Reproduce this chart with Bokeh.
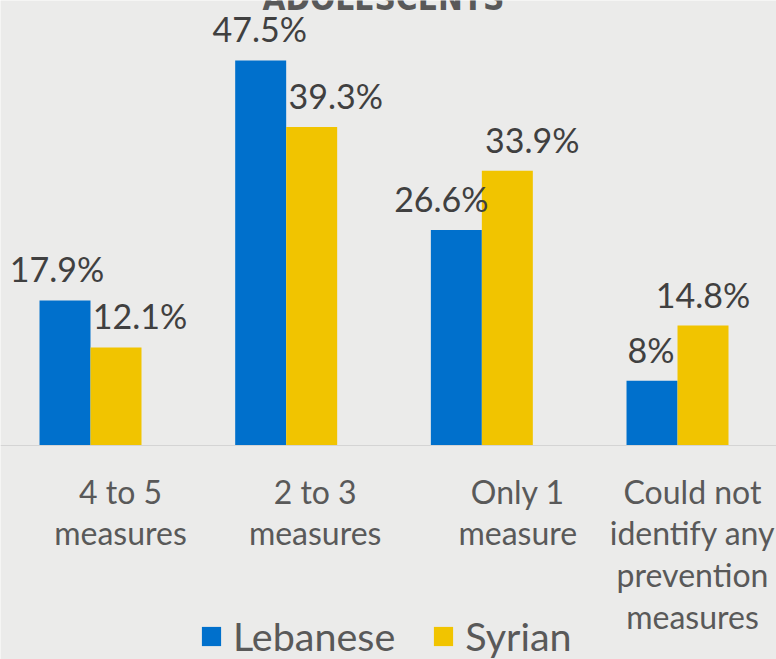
from bokeh.plotting import figure
from bokeh.models import ColumnDataSource, LabelSet, Label, Legend, LegendItem, Range1d, Span
from bokeh.core.properties import value
from bokeh.transform import dodge
from bokeh.embed import file_html
from bokeh.resources import INLINE

# ---- data ----
categories = ["4 to 5\nmeasures", "2 to 3\nmeasures", "Only 1\nmeasure",
              "Could not\nidentify any\nprevention\nmeasures"]
lebanese = [17.9, 47.5, 26.6, 8.0]
syrian = [12.1, 39.3, 33.9, 14.8]
series_names = ["Lebanese", "Syrian"]
title_text = "ADOLESCENTS"

# ---- styles ----
BG = "#EBEBEA"
BLUE = "#0070CC"
YELLOW = "#F1C400"
FONT = "Lato"
leb_dx = [-8, -1, -15, -1]     # label nudges in px
syr_dx = [24, 24, 25, 0]
cat_dx = [30, 29, 36, 15]
LINE_STEP = 41.7
FIRST_LINE = 58

idx = list(range(len(categories)))
src = ColumnDataSource(dict(
    x=idx,
    leb=lebanese,
    syr=syrian,
    leb_txt=[f"{v:g}%" for v in lebanese],
    syr_txt=[f"{v:g}%" for v in syrian],
    leb_dx=leb_dx,
    syr_dx=syr_dx,
))

# one row per text line of each category label (so each line is centred)
lx, lt, ldx, ldy = [], [], [], []
for i, cat in enumerate(categories):
    for j, line in enumerate(cat.split("\n")):
        lx.append(i)
        lt.append(line)
        ldx.append(cat_dx[i])
        ldy.append(-(FIRST_LINE + LINE_STEP * j))
cat_src = ColumnDataSource(dict(x=lx, text=lt, dx=ldx, dy=ldy))

W, H = 776, 659
p = figure(width=W, height=H, output_backend="svg", toolbar_location=None,
           x_range=Range1d(-0.46, 3.5059), y_range=Range1d(-26.40, 54.90),
           min_border=0, min_border_left=0, min_border_right=0,
           min_border_top=0, min_border_bottom=0)
p.background_fill_color = BG
p.border_fill_color = BG
p.outline_line_color = None
p.axis.visible = False
p.grid.visible = False

bw = 0.2606
off = bw / 2
r1 = p.vbar(x=dodge("x", -off, range=p.x_range), top="leb", width=bw, source=src,
            fill_color=BLUE, line_color=None)
r2 = p.vbar(x=dodge("x", off, range=p.x_range), top="syr", width=bw, source=src,
            fill_color=YELLOW, line_color=None)

p.add_layout(Span(location=0, dimension="width", line_color="#D4D4D4", line_width=1))

common = dict(text_font=value(FONT), text_font_size="34px", text_color="#404040",
              text_align="center", text_baseline="alphabetic")
p.add_layout(LabelSet(x=dodge("x", -off, range=p.x_range), y="leb", text="leb_txt",
                      source=src, x_offset="leb_dx", y_offset=18, **common))
p.add_layout(LabelSet(x=dodge("x", off, range=p.x_range), y="syr", text="syr_txt",
                      source=src, x_offset="syr_dx", y_offset=18, **common))

p.add_layout(LabelSet(x="x", y=0, text="text", source=cat_src, x_offset="dx", y_offset="dy",
                      text_align="center", text_baseline="alphabetic",
                      text_font=value(FONT), text_font_size="32px", text_color="#595959"))

p.add_layout(Label(x=1.497, y=55.15, text=title_text,
                   text_align="center", text_baseline="alphabetic",
                   text_font="DejaVu Sans Condensed", text_font_style="bold",
                   text_font_size="33px", text_color="#595959"))

legend = Legend(items=[LegendItem(label=series_names[0], renderers=[r1]),
                       LegendItem(label=series_names[1], renderers=[r2])],
                orientation="horizontal", location=(199, 0),
                glyph_width=24, glyph_height=24, label_standoff=10, spacing=36,
                padding=0, margin=0, border_line_alpha=0, background_fill_alpha=0,
                label_text_font=FONT, label_text_font_size="39.5px",
                label_text_color="#595959")
p.add_layout(legend)

open("out.html", "w").write(file_html(p, INLINE))
